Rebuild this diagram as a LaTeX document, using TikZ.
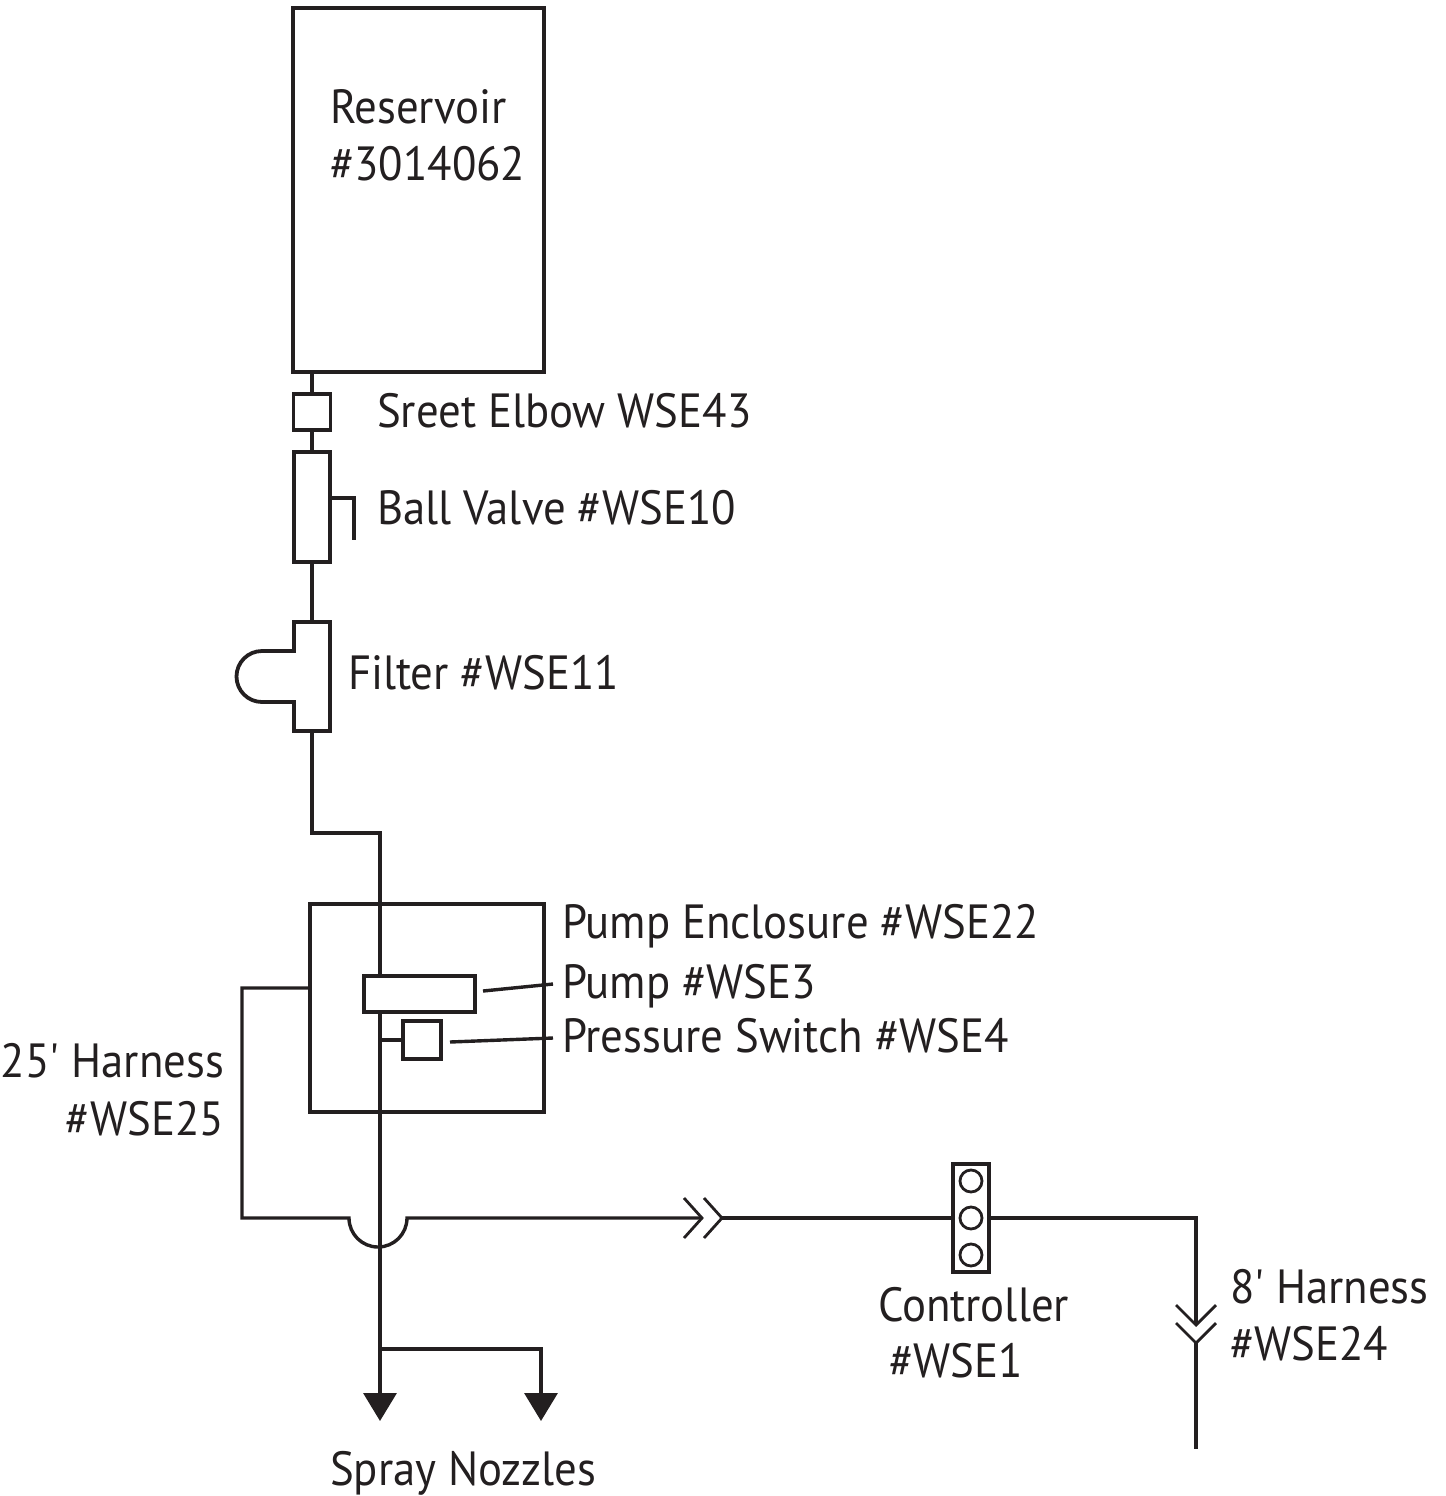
\documentclass[tikz,border=0pt]{standalone}
\usepackage{fontspec}
\newfontfamily\partfont[FakeStretch=0.933]{PT Sans}
\usetikzlibrary{positioning,calc,arrows.meta}
\definecolor{ink}{HTML}{231F20}
\tikzset{
  part/.style={draw=ink, line width=1.9pt, inner sep=0pt, outer sep=0pt, shape=rectangle},
  wire/.style={draw=ink, line width=1.7pt},
  barb/.style={draw=ink, line width=1.4pt},
  label/.style={text=ink, inner sep=0pt, outer sep=0pt, anchor=base west},
  labelr/.style={label, anchor=base east},
  lamp/.style={draw=ink, line width=1.4pt, shape=circle, minimum size=11pt, inner sep=0pt, outer sep=0pt},
  nozzle/.style={wire, -{Triangle[width=16.5pt,length=14pt]}}
}
\begin{document}
\begin{tikzpicture}[x=0.5pt,y=-0.5pt,font=\partfont\fontsize{24}{28}\selectfont]
    \useasboundingbox (0,0) rectangle (1446,1496);
    \node[part, minimum width=125.5pt, minimum height=182pt] (reservoir) at (418.5,190) {};
    \node[part, minimum width=18.5pt, minimum height=18pt] (elbow) at (312,412) {};
    \node[part, minimum width=18pt, minimum height=55pt] (valve) at (312,507) {};
    \node[part, minimum width=117pt, minimum height=104pt] (enclosure) at (427,1008) {};
    \node[part, minimum width=55.5pt, minimum height=18pt] (pump) at (419.5,994) {};
    \node[part, minimum width=19pt, minimum height=19pt] (switch) at (422,1040) {};
    \node[part, minimum width=18pt, minimum height=54pt] (controller) at (971,1218) {};
    \node[lamp] (lampa) at (971,1181) {};
    \node[lamp] (lampb) at (971,1218) {};
    \node[lamp] (lampc) at (971,1255) {};
    %
    \coordinate (filter_top) at (312,622);
    \coordinate (filter_bot) at (312,731);
    \coordinate (bend) at (380,833);
    \coordinate (tee) at (380,1349);
    \coordinate (nozzle_a) at (380,1421);
    \coordinate (nozzle_b) at (541,1421);
    \coordinate (drop) at (310,988);
    \coordinate (hop_in) at (349,1218);
    \coordinate (hop_out) at (407,1218);
    \coordinate (plug_a) at (702,1218);
    \coordinate (plug_b) at (722,1218);
    \coordinate (plug_c) at (1196,1325);
    \coordinate (plug_d) at (1196,1343);
    \coordinate (tail) at (1196,1449);
    %
    \draw[part] (filter_top) -| (294,651) -- (262,651) arc[start angle=270, end angle=90, radius=25.5]
      -- (294,702) |- (filter_bot) -| (330,622) -- cycle;
    \draw[wire] (312,372) -- (elbow);
    \draw[wire] (elbow) -- (valve);
    \draw[wire] (valve) -- (filter_top);
    \draw[wire] (valve.east |- 0,498) -- (354,498) -- (354,540);
    \draw[wire] (filter_bot) |- (bend) -- (pump.north -| bend);
    \draw[wire] (pump.south -| bend) -- (tee);
    \draw[nozzle] (tee) -- (nozzle_a);
    \draw[nozzle] (tee) -| (nozzle_b);
    \draw[wire] (switch.west -| bend) -- (switch);
    \draw[wire] (483,991) -- (553,984);
    \draw[wire] (450,1042) -- (553,1038);
    \draw[wire] (drop) -- (242,988) |- (hop_in) arc[start angle=180, end angle=0, radius=29] -- (plug_a);
    \draw[wire] (plug_b) -- (controller);
    \draw[wire] (controller) -| (plug_c);
    \draw[wire] (plug_d) -- (tail);
    %
    \draw[barb] ($(plug_a)+(-18,-20)$) -- (plug_a) -- ($(plug_a)+(-18,20)$);
    \draw[barb] ($(plug_b)+(-18,-20)$) -- (plug_b) -- ($(plug_b)+(-18,20)$);
    \draw[barb] ($(plug_c)+(-20,-20)$) -- (plug_c) -- ($(plug_c)+(20,-20)$);
    \draw[barb] ($(plug_d)+(-20,-20)$) -- (plug_d) -- ($(plug_d)+(20,-20)$);
    %
    \node[label] (l_res) at (330,123) {Reservoir};
    \node[label] (l_resno) at (330,180) {\#3014062};
    \node[label] (l_elbow) at (377,427) {Sreet Elbow WSE43};
    \node[label] (l_valve) at (377,524) {Ball Valve \#WSE10};
    \node[label] (l_filter) at (348,689) {Filter \#WSE11};
    \node[label] (l_encl) at (562,938) {Pump Enclosure \#WSE22};
    \node[label] (l_pump) at (562,998) {Pump \#WSE3};
    \node[label] (l_switch) at (562,1052) {Pressure Switch \#WSE4};
    \node[labelr] (l_long) at (224,1077) {25' Harness};
    \node[labelr] (l_longno) at (224,1135) {\#WSE25};
    \node[label] (l_ctrl) at (878,1321) {Controller};
    \node[label] (l_ctrlno) at (889,1377) {\#WSE1};
    \node[label] (l_short) at (1230,1303) {8' Harness};
    \node[label] (l_shortno) at (1230,1360) {\#WSE24};
    \node[label] (l_spray) at (330,1485) {Spray Nozzles};
\end{tikzpicture}
\end{document}
